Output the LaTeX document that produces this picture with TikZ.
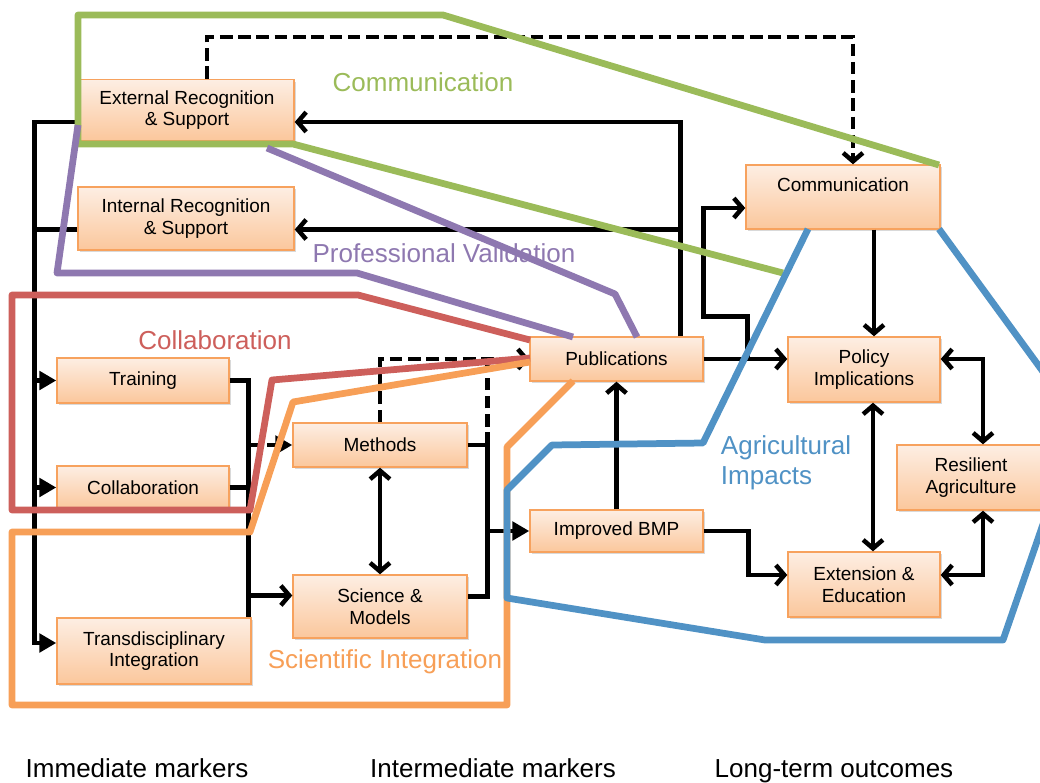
\documentclass[tikz,border=0pt]{standalone}
\usepackage{fontspec}
\setmainfont{Liberation Sans}
\usetikzlibrary{arrows.meta,calc,shadows}
\definecolor{boxline}{HTML}{F7A25E}
\definecolor{boxtop}{HTML}{FDEEE3}
\definecolor{boxbot}{HTML}{FBC79C}
\definecolor{grpgreen}{HTML}{9BBB59}
\definecolor{grppurple}{HTML}{8E78B0}
\definecolor{grpred}{HTML}{CD5F5B}
\definecolor{grporange}{HTML}{F79F57}
\definecolor{grpblue}{HTML}{5092C5}
\begin{document}
\begin{tikzpicture}[x=0.025cm, y=-0.025cm,
        box/.style={draw=boxline, line width=1pt, top color=boxtop, bottom color=boxbot,
            align=center, inner sep=2pt, font=\fontsize{13.5}{15.5}\selectfont,
            drop shadow={shadow xshift=0.06cm, shadow yshift=-0.06cm, opacity=0.3}},
        conn/.style={line width=3.2pt},
        dashline/.style={line width=3.2pt, dash pattern=on 9pt off 4pt},
        tip/.style={arrows={-Straight Barb[length=6pt,width=14pt]}},
        tips/.style={arrows={Straight Barb[length=6pt,width=14pt]-Straight Barb[length=6pt,width=14pt]}},
        tri/.style={arrows={-Triangle[length=12pt,width=13pt]}},
        grp/.style={line width=4.8pt, line join=round},
        grplabel/.style={font=\fontsize{18.5}{21}\selectfont},
        marker/.style={font=\fontsize{18.5}{21}\selectfont, anchor=base}]
    \useasboundingbox (0,0) rectangle (1040,783);
    \clip (0,0) rectangle (1040,783);
    \node[box, minimum width=5.35cm, minimum height=1.52cm] (ext) at (187,110) {External Recognition\\\& Support};
    \node[box, minimum width=5.4cm, minimum height=1.575cm] (int) at (186,218.5) {Internal Recognition\\\& Support};
    \node[box, minimum width=4.3cm, minimum height=1.125cm] (train) at (143,380.5) {Training};
    \node[box, minimum width=4.3cm, minimum height=1.075cm] (collab) at (143,487.5) {Collaboration};
    \node[box, minimum width=4.85cm, minimum height=1.65cm] (trans) at (154,651) {Transdisciplinary\\Integration};
    \node[box, minimum width=4.35cm, minimum height=1.1cm] (methods) at (380,445) {Methods};
    \node[box, minimum width=4.35cm, minimum height=1.575cm] (science) at (380,606.5) {Science \&\\Models};
    \node[box, minimum width=4.325cm, minimum height=1.1cm] (pub) at (616.5,359) {Publications};
    \node[box, minimum width=4.325cm, minimum height=1.05cm] (bmp) at (616.5,531) {Improved BMP};
    \node[box, minimum width=4.85cm, minimum height=1.6cm, text depth=0.64cm] (comm) at (843,197) {Communication};
    \node[box, minimum width=3.8cm, minimum height=1.625cm] (policy) at (864,369.5) {Policy\\Implications};
    \node[box, minimum width=3.7cm, minimum height=1.625cm] (resil) at (971,477.5) {Resilient\\Agriculture};
    \node[box, minimum width=3.8cm, minimum height=1.625cm] (ext2) at (864,584.5) {Extension \&\\Education};

    \coordinate (lbus) at ($(ext.west)+(-45,0)$);
    \coordinate (rbus) at ($(trans.north east)+(-3,0)$);
    \coordinate (extl) at ($(ext.west)+(0,12)$);
    \coordinate (intl) at ($(int.west)+(0,11)$);
    \coordinate (transin) at ($(trans.west)+(0,-8)$);
    \draw[conn, tri] (extl) -| (lbus |- transin) -- (transin);
    \draw[conn] (intl) -- (intl -| lbus);
    \draw[conn, tri] (lbus |- train.west) -- (train.west);
    \draw[conn, tri] (lbus |- collab.west) -- (collab.west);

    \coordinate (pubup) at ($(pub.north)+(64,0)$);
    \coordinate (extr) at ($(ext.east)+(0,12)$);
    \coordinate (intr) at ($(int.east)+(0,11)$);
    \draw[conn, tip] (pubup) |- (extr);
    \draw[conn, tip] (pubup |- intr) -- (intr);

    \coordinate (extup) at ($(ext.north)+(20,0)$);
    \coordinate (commin) at ($(comm.north)+(10,0)$);
    \draw[dashline, tip] (extup) -- ++(0,-42) -| (commin);

    \coordinate (sciin) at ($(science.west)+(0,-11)$);
    \draw[conn] (train.east) -| (rbus);
    \draw[conn] (collab.east) -- (collab.east -| rbus);
    \draw[dashline, tri] (rbus |- methods.west) -- (methods.west);
    \draw[conn, tip] (rbus |- sciin) -- (sciin);

    \coordinate (mbus) at ($(methods.east)+(20,0)$);
    \coordinate (sciout) at ($(science.east)+(0,-10)$);
    \draw[dashline, tip] (methods.north) |- (pub.west);
    \draw[dashline] (mbus) -- (mbus |- pub.west);
    \draw[conn] (methods.east) -- (mbus) |- (sciout);
    \draw[conn, tri] (mbus |- bmp.west) -- (bmp.west);
    \draw[conn, tips] (methods.south) -- (science.north);
    \draw[conn, tip] (bmp.north) -- (pub.south);

    \coordinate (pubbr) at ($(pub.east)+(44,0)$);
    \coordinate (commw) at ($(comm.west)+(0,11)$);
    \coordinate (commout) at ($(comm.south)+(31,0)$);
    \coordinate (polout) at ($(policy.south)+(9,0)$);
    \coordinate (resn) at ($(resil.north)+(12,0)$);
    \coordinate (ress) at ($(resil.south)+(12,0)$);
    \coordinate (ext2in) at ($(ext2.west)+(0,-9.5)$);
    \coordinate (ext2r) at ($(ext2.east)+(0,-9.5)$);
    \draw[conn, tip] (pub.east) -- (pub.east -| policy.west);
    \draw[conn, tip] (pubbr) |- ($(pub.north east)+(0,-20)$) |- (commw);
    \draw[conn, tip] (commout) -- (commout |- policy.north);
    \draw[conn, tips] (polout) -- (polout |- ext2.north);
    \draw[conn, tips] (resn) |- (policy.east |- pub.east);
    \draw[conn, tips] (ress) |- (ext2r);
    \draw[conn, tip] (bmp.east) -- ++(45,0) |- (ext2in);

    \draw[grp, grpgreen] (783,273) -- (293,144) -- (78,144) -- (78,15) -- (443,15) -- (939,165);
    \draw[grp, grppurple] (78,125) -- (57,273) -- (357,273) -- (573,337);
    \draw[grp, grppurple] (267,148) -- (615,294) -- (637,337);
    \draw[grp, grpred] (530,340) -- (358,295) -- (12,295) -- (12,510) -- (250,510) -- (272,380) -- (530,358);
    \draw[grp, grporange] (530,362) -- (293,402) -- (250,532) -- (12,532) -- (12,705) -- (507,705) -- (507,447) -- (573,381);
    \draw[grp, grpblue] (808,229) -- (703,443) -- (552,445) -- (507,490) -- (507,598) -- (765,640) -- (1003,640) -- (1060,475) -- (1060,395) -- (939,229);

    \node[grplabel, text=grpgreen] (lcomm) at (423,82) {Communication};
    \node[grplabel, text=grppurple] (lprof) at (444,253) {Professional Validation};
    \node[grplabel, text=grpred] (lcoll) at (215,340) {Collaboration};
    \node[grplabel, text=grpblue, align=left, anchor=west] (lagri) at (716,463) {Agricultural\\Impacts};
    \node[grplabel, text=grporange] (lsci) at (385,662) {Scientific Integration};
    \node[marker] (imm) at (137,777) {Immediate markers};
    \node[marker] (inter) at (493,777) {Intermediate markers};
    \node[marker] (long) at (834,777) {Long-term outcomes};
\end{tikzpicture}
\end{document}
